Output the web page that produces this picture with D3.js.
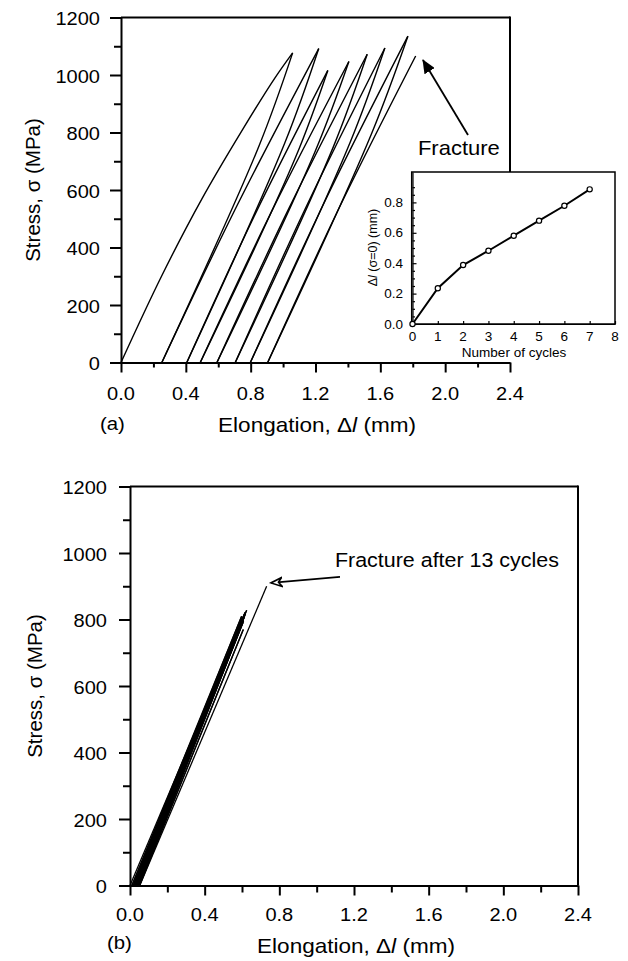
<!DOCTYPE html>
<html>
<head>
<meta charset="utf-8">
<script src="https://cdn.jsdelivr.net/npm/d3@7"></script>
<style>
  html, body { margin: 0; padding: 0; background: #fff; }
  svg { display: block; font-family: "Liberation Sans", Arial, Helvetica, sans-serif; }
</style>
</head>
<body>
<svg id="fig" width="628" height="961"></svg>
<script>
// ---------- shared axis ticks ----------
const strainTicks = [0, 0.4, 0.8, 1.2, 1.6, 2.0, 2.4];
const strainMinor = [0.2, 0.6, 1.0, 1.4, 1.8, 2.2];
const stressTicks = [0, 200, 400, 600, 800, 1000, 1200];
const stressMinor = [100, 300, 500, 700, 900, 1100];

// ---------- (a) cyclic loading to fracture: [elongation mm, stress MPa] ----------
const loadingA = [
  [[0, 0], [0.25, 300], [0.5, 570], [0.75, 810], [0.95, 990], [1.059, 1077]],
  [[0.252, 0], [0.716, 546], [1.220, 1092]],
  [[0.406, 0], [0.821, 508], [1.276, 1016]],
  [[0.489, 0], [0.928, 524], [1.406, 1047]],
  [[0.592, 0], [1.036, 536], [1.519, 1072]],
  [[0.705, 0], [1.147, 547], [1.628, 1094]],
  [[0.798, 0], [1.264, 568], [1.770, 1135]],
  [[0.905, 0], [1.342, 533], [1.818, 1066]]
];
const unloadingA = [
  [[1.059, 1077], [0.852, 754], [0.252, 0]],
  [[1.220, 1092], [1.011, 764], [0.406, 0]],
  [[1.276, 1016], [1.075, 711], [0.489, 0]],
  [[1.406, 1047], [1.197, 733], [0.592, 0]],
  [[1.519, 1072], [1.310, 750], [0.705, 0]],
  [[1.628, 1094], [1.414, 766], [0.798, 0]],
  [[1.770, 1135], [1.545, 795], [0.905, 0]]
];

// ---------- (a) inset: residual elongation after each cycle ----------
const insetCycles = [0, 1, 2, 3, 4, 5, 6, 7];
const insetOffset = [0, 0.235, 0.388, 0.482, 0.581, 0.680, 0.778, 0.886];
const insetXTicks = [0, 1, 2, 3, 4, 5, 6, 7, 8];
const insetYTicks = [0, 0.2, 0.4, 0.6, 0.8];
const insetYMinor = [0.05, 0.1, 0.15, 0.25, 0.3, 0.35, 0.45, 0.5, 0.55, 0.65, 0.7, 0.75, 0.85, 0.9];

// ---------- (b) 13 cycles followed by fracture ----------
const zeroStrainB = [0, 0.010, 0.017, 0.022, 0.026, 0.030, 0.033, 0.036, 0.039, 0.042, 0.045, 0.048, 0.050, 0.052];
const peakStrainB = [0.625, 0.598, 0.612, 0.604, 0.617, 0.600, 0.614, 0.606, 0.619, 0.602, 0.611, 0.608, 0.607];
const peakStressB = [828, 810, 815, 798, 822, 805, 812, 792, 818, 800, 806, 796, 770];
const fractureB = [[0.052, 0], [0.732, 900]];

// ---------- drawing ----------
const svg = d3.select("#fig");
const SX = 1.1;               // horizontal glyph stretch of the printed lettering
const AXIS_W = 2, LINE_W = 1.4;

function txt(g, x, y, s, size, anchor) {
  return g.append("text")
    .attr("transform", `translate(${x},${y}) scale(${SX},1)`)
    .attr("font-size", size)
    .attr("text-anchor", anchor || "start")
    .attr("fill", "#000")
    .text(s);
}

function elongTitle(g, x, y, size) {
  const t = g.append("text")
    .attr("transform", `translate(${x},${y}) scale(${SX},1)`)
    .attr("font-size", size).attr("text-anchor", "middle");
  t.append("tspan").text("Elongation, \u0394");
  t.append("tspan").attr("font-style", "italic").text("l");
  t.append("tspan").text(" (mm)");
}

function stressTitle(g, x, y, size) {
  g.append("text")
    .attr("transform", `translate(${x},${y}) rotate(-90)`)
    .attr("font-size", size).attr("text-anchor", "middle")
    .text("Stress, \u03c3 (MPa)");
}

function styleAxis(sel, w) {
  sel.select(".domain").attr("stroke", "#000").attr("stroke-width", w);
  sel.selectAll(".tick line").attr("stroke", "#000").attr("stroke-width", w);
}

function mainAxes(g, x, y, opt) {
  const xa = g.append("g").attr("transform", `translate(0,${y(0)})`)
    .call(d3.axisBottom(x).tickValues(strainTicks).tickSize(10).tickSizeOuter(0).tickFormat(""));
  styleAxis(xa, AXIS_W);
  const xm = g.append("g").attr("transform", `translate(0,${y(0)})`)
    .call(d3.axisBottom(x).tickValues(strainMinor).tickSize(opt.minorX).tickSizeOuter(0).tickFormat(""));
  styleAxis(xm, AXIS_W); xm.select(".domain").remove();

  const ya = g.append("g").attr("transform", `translate(${x(0)},0)`)
    .call(d3.axisLeft(y).tickValues(stressTicks).tickSize(11).tickSizeOuter(0).tickFormat(""));
  styleAxis(ya, AXIS_W);
  const ym = g.append("g").attr("transform", `translate(${x(0)},0)`)
    .call(d3.axisLeft(y).tickValues(stressMinor).tickSize(7).tickSizeOuter(0).tickFormat(""));
  styleAxis(ym, AXIS_W); ym.select(".domain").remove();

  const f1 = d3.format(".1f");
  strainTicks.forEach(v => txt(g, x(v), y(0) + opt.xLabelDy, f1(v), 18.2, "middle"));
  stressTicks.forEach(v => txt(g, x(0) - opt.yLabelGap, y(v) + 7.5, String(v), 18.2, "end"));

  // frame: top edge and right edge
  g.append("line").attr("x1", x(0)).attr("x2", x(2.4)).attr("y1", y(1200)).attr("y2", y(1200))
    .attr("stroke", "#000").attr("stroke-width", AXIS_W);
  g.append("line").attr("x1", x(2.4)).attr("x2", x(2.4)).attr("y1", y(1200) - 1).attr("y2", opt.rightEnd)
    .attr("stroke", "#000").attr("stroke-width", AXIS_W);
}

const curve = d3.curveCatmullRom.alpha(0.5);

// ===== panel (a) =====
const gA = svg.append("g");
const xA = d3.scaleLinear([0, 2.4], [121, 510]);
const yA = d3.scaleLinear([0, 1200], [362.5, 17.5]);

const lineA = d3.line().x(d => xA(d[0])).y(d => yA(d[1])).curve(curve);
gA.selectAll("path.load").data(loadingA).join("path").attr("class", "load")
  .attr("d", lineA).attr("fill", "none").attr("stroke", "#000").attr("stroke-width", LINE_W);
gA.selectAll("path.unload").data(unloadingA).join("path").attr("class", "unload")
  .attr("d", lineA).attr("fill", "none").attr("stroke", "#000").attr("stroke-width", LINE_W);

mainAxes(gA, xA, yA, { minorX: 5, xLabelDy: 37, yLabelGap: 21, rightEnd: 172 });
elongTitle(gA, 317, 431.5, 20.5);
txt(gA, 100, 429.5, "(a)", 18.5, "start");
stressTitle(gA, 40, 190, 20.5);

// fracture annotation
const defs = svg.append("defs");
defs.append("marker").attr("id", "headFilled").attr("viewBox", "0 -6 14 12")
  .attr("refX", 13).attr("refY", 0).attr("markerWidth", 14).attr("markerHeight", 12)
  .attr("markerUnits", "userSpaceOnUse").attr("orient", "auto")
  .append("path").attr("d", "M0,-6L14,0L0,6Z").attr("fill", "#000");
gA.append("line")
  .attr("x1", xA(2.141)).attr("y1", yA(791)).attr("x2", xA(1.863)).attr("y2", yA(1052))
  .attr("stroke", "#000").attr("stroke-width", 1.8).attr("marker-end", "url(#headFilled)");
txt(gA, xA(1.832), yA(722), "Fracture", 20, "start");

// inset
const gI = svg.append("g");
const xI = d3.scaleLinear([0, 8], [412.5, 615]);
const yI = d3.scaleLinear([0, 1], [324, 172]);
gI.append("rect").attr("x", xI(0) - 0.8).attr("y", yI(1)).attr("width", xI(8) - xI(0) + 0.8)
  .attr("height", yI(0) - yI(1)).attr("fill", "#fff").attr("stroke", "#000").attr("stroke-width", 1.5);
gI.append("g").attr("transform", `translate(0,${yI(0)})`)
  .call(d3.axisTop(xI).tickValues(insetXTicks).tickSize(3).tickSizeOuter(0).tickFormat(""))
  .call(s => styleAxis(s, 1.2));
gI.append("g").attr("transform", `translate(${xI(0)},0)`)
  .call(d3.axisRight(yI).tickValues(insetYTicks).tickSize(4).tickSizeOuter(0).tickFormat(""))
  .call(s => styleAxis(s, 1.2));
gI.append("g").attr("transform", `translate(${xI(0)},0)`)
  .call(d3.axisRight(yI).tickValues(insetYMinor).tickSize(2.5).tickSizeOuter(0).tickFormat(""))
  .call(s => { styleAxis(s, 1.2); s.select(".domain").remove(); });
insetXTicks.forEach(v => txt(gI, xI(v), 341, String(v), 12.3, "middle"));
insetYTicks.forEach(v => txt(gI, 403, yI(v) + 4.5, d3.format(".1f")(v), 12.3, "end"));
txt(gI, 514, 356.5, "Number of cycles", 12.3, "middle");
const iy = gI.append("text").attr("transform", `translate(376.5,247.5) rotate(-90)`)
  .attr("font-size", 12.5).attr("text-anchor", "middle");
iy.append("tspan").text("\u0394");
iy.append("tspan").attr("font-style", "italic").text("l");
iy.append("tspan").text(" (\u03c3=0) (mm)");

const insetPts = insetCycles.map((c, i) => [c, insetOffset[i]]);
gI.append("path").datum(insetPts)
  .attr("d", d3.line().x(d => xI(d[0])).y(d => yI(d[1])))
  .attr("fill", "none").attr("stroke", "#000").attr("stroke-width", 2);
gI.selectAll("circle").data(insetPts).join("circle")
  .attr("cx", d => xI(d[0])).attr("cy", d => yI(d[1])).attr("r", 2.6)
  .attr("fill", "#fff").attr("stroke", "#000").attr("stroke-width", 1.2);

// ===== panel (b) =====
const gB = svg.append("g");
const xB = d3.scaleLinear([0, 2.4], [130, 578]);
const yB = d3.scaleLinear([0, 1200], [885.5, 486.5]);
const lineB = d3.line().x(d => xB(d[0])).y(d => yB(d[1]));

const branchesB = [];
peakStrainB.forEach((p, k) => {
  branchesB.push([[zeroStrainB[k], 0], [p, peakStressB[k]]]);
  branchesB.push([[p, peakStressB[k]], [zeroStrainB[k + 1], 0]]);
});
branchesB.push(fractureB);
gB.selectAll("path.cyc").data(branchesB).join("path").attr("class", "cyc")
  .attr("d", lineB).attr("fill", "none").attr("stroke", "#000").attr("stroke-width", 1.3);

mainAxes(gB, xB, yB, { minorX: 7, xLabelDy: 35.5, yLabelGap: 23, rightEnd: yB(0) });
elongTitle(gB, 356, 953, 20.5);
txt(gB, 107, 949, "(b)", 18.5, "start");
stressTitle(gB, 42, 686, 20.5);

// open arrow head: tip at +x so it points along the line direction
defs.append("marker").attr("id", "headOpen").attr("viewBox", "-1 -6 14 12")
  .attr("refX", 11).attr("refY", 0).attr("markerWidth", 14).attr("markerHeight", 12)
  .attr("markerUnits", "userSpaceOnUse").attr("orient", "auto")
  .append("path").attr("d", "M0,-4.5L11,0L0,4.5L3.5,0Z")
  .attr("fill", "#fff").attr("stroke", "#000").attr("stroke-width", 1.6);
gB.append("line")
  .attr("x1", xB(1.125)).attr("y1", yB(928)).attr("x2", xB(0.755)).attr("y2", yB(910))
  .attr("stroke", "#000").attr("stroke-width", 1.8).attr("marker-end", "url(#headOpen)");
txt(gB, xB(1.098), yB(958), "Fracture after 13 cycles", 19.5, "start");
</script>
</body>
</html>
